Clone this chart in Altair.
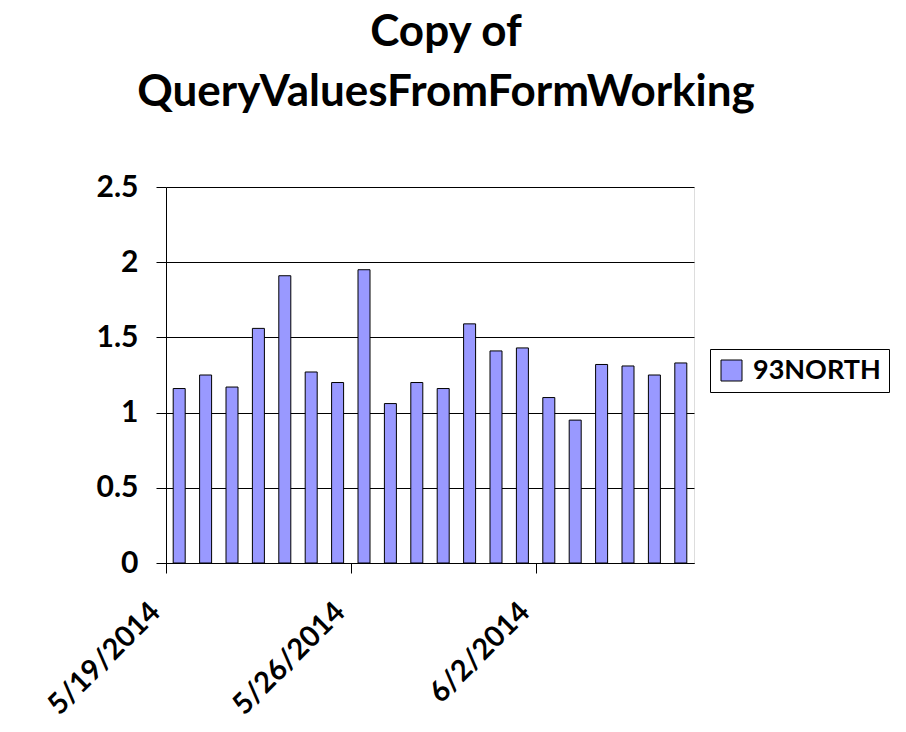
import altair as alt
import pandas as pd

dates = ["2014-05-19", "2014-05-20", "2014-05-21", "2014-05-22", "2014-05-23",
         "2014-05-24", "2014-05-25", "2014-05-26", "2014-05-27", "2014-05-28",
         "2014-05-29", "2014-05-30", "2014-05-31", "2014-06-01", "2014-06-02",
         "2014-06-03", "2014-06-04", "2014-06-05", "2014-06-06", "2014-06-07"]
values = [1.16, 1.25, 1.17, 1.56, 1.91, 1.27, 1.20, 1.95, 1.06, 1.20,
          1.16, 1.59, 1.41, 1.43, 1.10, 0.95, 1.32, 1.31, 1.25, 1.33]
series = "93NORTH"
tick_dates = ["2014-05-19", "2014-05-26", "2014-06-02"]
y_ticks = [0, 0.5, 1, 1.5, 2, 2.5]

df = pd.DataFrame({
    "date": (pd.to_datetime(dates) + pd.Timedelta(hours=12)).strftime("%Y-%m-%dT%H:%M:%S"),
    "value": values,
    "series": series,
})

def dt(s):
    y, m, d = s.split("-")
    return alt.DateTime(year=int(y), month=int(m), date=int(d))

FONT = "Lato"

chart = alt.Chart(df).mark_bar(size=12, stroke="black", strokeWidth=1).encode(
    x=alt.X("date:T",
            scale=alt.Scale(domain=[dt("2014-05-19"), dt("2014-06-08")], padding=0, nice=False),
            axis=alt.Axis(values=[dt(t) for t in tick_dates], format="%-m/%-d/%Y",
                          labelAngle=-45, labelAlign="right", labelBaseline="middle",
                          labelPadding=34, labelOffset=-11, tickSize=10, grid=False, title=None,
                          labelFontSize=29, labelFont=FONT, labelFontWeight="bold",
                          labelColor="black", domainColor="black", tickColor="black")),
    y=alt.Y("value:Q",
            scale=alt.Scale(domain=[0, 2.5], nice=False),
            axis=alt.Axis(values=y_ticks, format="~g", title=None, tickSize=10, labelPadding=18,
                          labelFontSize=30, labelFont=FONT, labelFontWeight="bold",
                          labelColor="black", domainColor="black", tickColor="black",
                          gridColor="black", gridOpacity=1, gridWidth=1)),
    color=alt.Color("series:N", scale=alt.Scale(range=["#9999FF"]),
                    legend=alt.Legend(title=None, orient="none", legendX=544, legendY=162,
                                      labelFontSize=27, labelFont=FONT, labelFontWeight="bold",
                                      labelColor="black", symbolType="square", symbolSize=441,
                                      symbolStrokeColor="black", symbolStrokeWidth=1,
                                      strokeColor="black", padding=8, labelOffset=8)),
).properties(
    width=528,
    height=376,
    title=alt.TitleParams(["Copy of", "QueryValuesFromFormWorking"], fontSize=44,
                          font=FONT, fontWeight="bold", color="black", anchor="middle",
                          dx=16, offset=57, lineHeight=60),
    padding={"left": 158, "top": 179, "right": 200, "bottom": 158},
    autosize=alt.AutoSizeParams(type="none"),
).configure_view(stroke=None).configure(background="white")

chart.save("out.html", embed_options={"renderer": "svg", "actions": False})
